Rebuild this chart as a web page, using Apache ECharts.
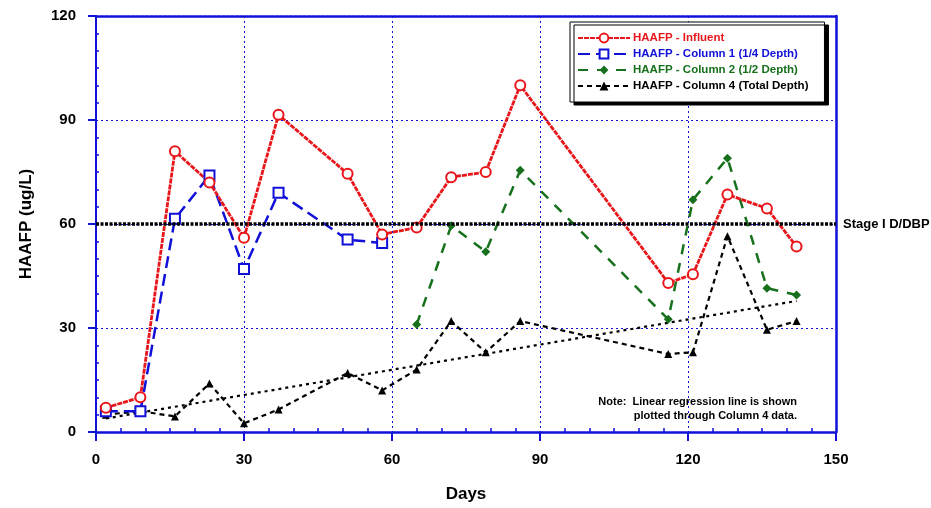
<!DOCTYPE html>
<html>
<head>
<meta charset="utf-8">
<script src="https://cdn.jsdelivr.net/npm/echarts@6/dist/echarts.min.js"></script>
<style>
html,body{margin:0;padding:0;background:#fff;}
#chart{width:931px;height:508px;}
</style>
</head>
<body>
<div id="chart"></div>
<script>
// ---- data ----
var days = [2, 9, 16, 23, 30, 37, 51, 58, 65, 72, 79, 86, 116, 121, 128, 136, 142];
var influent = [7, 10, 81, 72, 56, 91.5, 74.5, 57, 59, 73.5, 75, 100, 43, 45.5, 68.5, 64.5, 53.5];
var col1Days = [2, 9, 16, 23, 30, 37, 51, 58];
var column1 = [6, 6, 61.5, 74, 47, 69, 55.5, 54.5];
var col2Days = [65, 72, 79, 86, 116, 121, 128, 136, 142];
var column2 = [31, 59.5, 52, 75.5, 32.5, 67, 79, 41.5, 39.5];
var column4 = [5, 6, 4.5, 14, 2.5, 6.5, 17, 12, 18, 32, 23, 32, 22.5, 23, 56.5, 29.5, 32];
var regressionDays = [2, 142];
var regressionValues = [3.9, 37.8];
var stageLevel = 60;
var stageLabel = 'Stage I D/DBP';
var xTicks = [0, 30, 60, 90, 120, 150];
var yTicks = [0, 30, 60, 90, 120];
var seriesNames = ['HAAFP - Influent', 'HAAFP - Column 1 (1/4 Depth)', 'HAAFP - Column 2 (1/2 Depth)', 'HAAFP - Column 4 (Total Depth)'];

function pairs(xs, ys) { return xs.map(function (x, i) { return [x, ys[i]]; }); }

var FONT = 'Arial, "Liberation Sans", sans-serif';
var BLUE = '#1010d8';
var RED = '#e8161b';
var GREEN = '#17701c';
var BLACK = '#000000';

var chart = echarts.init(document.getElementById('chart'), null, {renderer: 'canvas'});

var option = {
  animation: false,
  backgroundColor: '#ffffff',
  grid: {left: 96, right: 95, top: 16, bottom: 72, containLabel: false},
  legend: {
    orient: 'vertical',
    left: 570,
    top: 22,
    padding: [10, 16, 10, 7],
    itemWidth: 52,
    itemHeight: 11,
    itemGap: 4,
    backgroundColor: '#ffffff',
    borderColor: '#000',
    borderWidth: 1,
    shadowColor: '#000',
    shadowOffsetX: 4,
    shadowOffsetY: 3,
    shadowBlur: 0,
    textStyle: {fontFamily: FONT, fontWeight: 'bold', fontSize: 11.5, padding: [0, 0, 0, -2]},
    data: [
      {name: seriesNames[0], textStyle: {color: RED}},
      {name: seriesNames[1], textStyle: {color: BLUE}},
      {name: seriesNames[2], textStyle: {color: GREEN}},
      {name: seriesNames[3], textStyle: {color: BLACK}}
    ]
  },
  xAxis: [
    {
      type: 'value', min: xTicks[0], max: xTicks[xTicks.length - 1], interval: 30,
      name: 'Days', nameLocation: 'middle', nameGap: 54,
      nameTextStyle: {fontFamily: FONT, fontWeight: 'bold', fontSize: 17, color: '#000'},
      axisLine: {show: true, onZero: false, lineStyle: {color: BLUE, width: 2.5, type: [3, 1]}},
      axisTick: {show: false, inside: true},
      minorTick: {show: true, splitNumber: 6, length: 4, lineStyle: {color: BLUE, width: 1.5}},
      axisLabel: {margin: 20, fontFamily: FONT, fontWeight: 'bold', fontSize: 15, color: '#000'},
      splitLine: {show: true, lineStyle: {color: BLUE, width: 1, type: [2, 3]}}
    },
    {
      type: 'value', min: xTicks[0], max: xTicks[xTicks.length - 1], interval: 30, position: 'top',
      axisLine: {show: true, onZero: false, lineStyle: {color: BLUE, width: 2.5, type: [3, 1.5]}},
      axisTick: {show: false}, axisLabel: {show: false}, splitLine: {show: false}
    },
    {
      type: 'value', min: xTicks[0], max: xTicks[xTicks.length - 1], interval: 30, position: 'bottom',
      axisLine: {show: false, onZero: false},
      axisTick: {show: true, length: 9, inside: false, lineStyle: {color: BLUE, width: 2}},
      axisLabel: {show: false}, splitLine: {show: false}
    }
  ],
  yAxis: [
    {
      type: 'value', min: yTicks[0], max: yTicks[yTicks.length - 1], interval: 30,
      name: 'HAAFP (ug/L)', nameLocation: 'middle', nameGap: 61, nameRotate: 90,
      nameTextStyle: {fontFamily: FONT, fontWeight: 'bold', fontSize: 17, color: '#000'},
      axisLine: {show: true, onZero: false, lineStyle: {color: BLUE, width: 2}},
      axisTick: {show: false, inside: true},
      minorTick: {show: true, splitNumber: 6, length: 3, lineStyle: {color: BLUE, width: 1.5}},
      axisLabel: {margin: 20, fontFamily: FONT, fontWeight: 'bold', fontSize: 15, color: '#000'},
      splitLine: {show: true, lineStyle: {color: BLUE, width: 1, type: [2, 3]}}
    },
    {
      type: 'value', min: yTicks[0], max: yTicks[yTicks.length - 1], interval: 30, position: 'right',
      axisLine: {show: true, onZero: false, lineStyle: {color: BLUE, width: 2.5}},
      axisTick: {show: false}, axisLabel: {show: false}, splitLine: {show: false}
    },
    {
      type: 'value', min: yTicks[0], max: yTicks[yTicks.length - 1], interval: 30, position: 'left',
      axisLine: {show: false, onZero: false},
      axisTick: {show: true, length: 8, inside: false, lineStyle: {color: BLUE, width: 2}},
      axisLabel: {show: false}, splitLine: {show: false}
    }
  ],
  series: [
    {
      name: 'stage', type: 'line', data: [], silent: true,
      markLine: {
        silent: true, symbol: 'none',
        lineStyle: {color: BLACK, width: 3.5, type: [3, 1.5]},
        label: {show: true, position: 'end', distance: 7, formatter: stageLabel,
          fontFamily: FONT, fontWeight: 'bold', fontSize: 13, color: '#000'},
        data: [{yAxis: stageLevel}]
      }
    },
    {
      name: 'regression', type: 'line', data: pairs(regressionDays, regressionValues),
      symbol: 'none', silent: true,
      lineStyle: {color: BLACK, width: 2.2, type: [3, 4]}
    },
    {
      name: seriesNames[3], type: 'line', data: pairs(days, column4),
      symbol: 'triangle', symbolSize: 8, itemStyle: {color: BLACK},
      lineStyle: {color: BLACK, width: 2.2, type: [5, 4]}
    },
    {
      name: seriesNames[2], type: 'line', data: pairs(col2Days, column2),
      symbol: 'diamond', symbolSize: 9, itemStyle: {color: GREEN},
      lineStyle: {color: GREEN, width: 2.5, type: [10, 9]}
    },
    {
      name: seriesNames[1], type: 'line', data: pairs(col1Days, column1),
      symbol: 'emptyRect', symbolSize: 10, itemStyle: {color: BLUE, borderWidth: 2},
      lineStyle: {color: BLUE, width: 2.5, type: [12, 6]}
    },
    {
      name: seriesNames[0], type: 'line', data: pairs(days, influent),
      symbol: 'emptyCircle', symbolSize: 10, itemStyle: {color: RED, borderWidth: 2},
      lineStyle: {color: RED, width: 2.8, type: [5, 1]}
    }
  ],
  graphic: [
    {type: 'text', right: 134, top: 396,
      style: {text: 'Note:  Linear regression line is shown', font: 'bold 11px ' + FONT, fill: '#000'}},
    {type: 'text', right: 134, top: 410,
      style: {text: 'plotted through Column 4 data.', font: 'bold 11px ' + FONT, fill: '#000'}}
  ]
};
chart.setOption(option);
</script>
</body>
</html>
